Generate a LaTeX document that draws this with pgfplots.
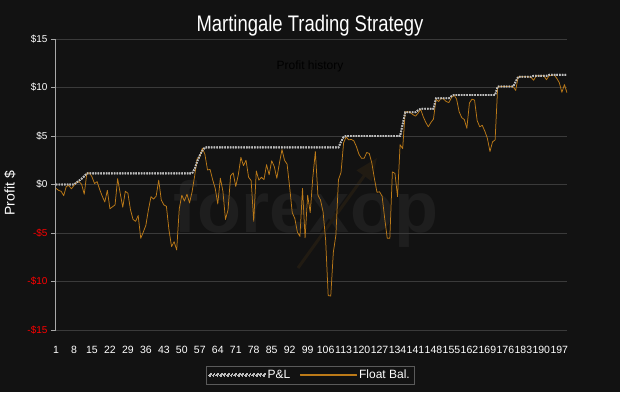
\documentclass[border=0pt]{standalone}
\usepackage{pgfplots}
\pgfplotsset{compat=1.18}
\usepackage{pgfplotstable}
\usepackage{fontspec}
\setmainfont{Liberation Sans}
\newfontfamily\titlefont[FakeStretch=0.82]{Liberation Sans}
\usetikzlibrary{arrows.meta}
\definecolor{bg}{HTML}{121212}
\definecolor{gridc}{HTML}{3A3A3A}
\definecolor{zeroc}{HTML}{B4B4B4}
\definecolor{axisc}{HTML}{A8A8A8}
\definecolor{pnlc}{HTML}{BDBDBD}
\definecolor{fltc}{HTML}{BC7A18}
\definecolor{wmc}{HTML}{1E1E1E}
\definecolor{wma}{HTML}{211B12}
\definecolor{legc}{HTML}{5A5A5A}

\pgfplotstableread{
x y
1 -0.4
2 -0.6
3 -0.7
4 -1.15
5 -0.2
6 -0.1
7 -0.45
8 -0.1
9 0.2
10 0.3
11 0.0
12 -1.0
13 1.15
14 1.2
15 0.8
16 0.1
17 0.3
18 -0.5
19 -1.2
20 -1.8
21 -0.6
22 -2.5
23 -2.3
24 -2.1
25 0.6
26 -0.9
27 -2.35
28 -0.7
29 -0.9
30 -2.6
31 -3.6
32 -3.8
33 -3.2
34 -5.55
35 -4.9
36 -4.2
37 -2.6
38 -1.25
39 -1.5
40 -1.2
41 0.45
42 -1.6
43 -2.1
44 -2.25
45 -4.7
46 -6.4
47 -5.9
48 -6.75
49 -2.5
50 -1.1
51 -1.7
52 -1.0
53 -1.9
54 -0.75
55 0.9
56 2.7
57 2.85
58 3.75
59 3.1
60 1.5
61 1.55
62 0.5
63 -0.4
64 -2.0
65 0.65
66 -0.7
67 -3.6
68 -2.6
69 0.9
70 1.2
71 -0.2
72 1.0
73 2.8
74 1.95
75 2.5
76 0.75
77 0.4
78 -3.8
79 1.4
80 0.45
81 0.75
82 0.5
83 2.05
84 1.0
85 2.45
86 1.85
87 0.65
88 2.2
89 3.6
90 2.5
91 2.1
92 -0.3
93 -2.9
94 -3.5
95 -4.9
96 -5.35
97 -0.4
98 -5.5
99 -1.1
100 -2.9
101 0.7
102 3.4
103 -1.1
104 -1.6
105 -2.8
106 -5.7
107 -11.45
108 -11.5
109 -7.0
110 -5.2
111 0.5
112 1.25
113 4.3
114 4.9
115 4.6
116 4.65
117 4.5
118 3.9
119 3.1
120 2.7
121 2.7
122 3.3
123 3.2
124 2.2
125 0.6
126 -0.8
127 -0.75
128 -1.2
129 -3.5
130 -5.55
131 -5.55
132 1.3
133 1.15
134 -1.25
135 4.1
136 3.7
137 7.5
138 7.5
139 7.4
140 7.2
141 7.05
142 7.35
143 7.75
144 7.0
145 6.4
146 5.95
147 6.4
148 6.75
149 8.8
150 8.55
151 8.9
152 8.8
153 8.55
154 8.45
155 8.95
156 9.23
157 8.8
158 7.5
159 6.9
160 6.7
161 5.8
162 8.4
163 8.8
164 8.7
165 6.6
166 5.95
167 6.1
168 5.5
169 4.75
170 3.4
171 4.4
172 4.6
173 10.05
174 10.1
175 10.1
176 10.1
177 10.1
178 10.1
179 10.1
180 9.7
181 11.1
182 11.1
183 11.1
184 11.1
185 11.1
186 11.05
187 10.75
188 11.2
189 11.2
190 11.2
191 11.2
192 10.8
193 11.2
194 11.25
195 11.3
196 10.95
197 10.5
198 9.5
199 10.3
200 9.45
}\floattable

\pgfplotstableread{
x y
1 0
8 0
9 0.2
10 0.4
11 0.6
12 0.85
13 1.15
54 1.15
55 1.6
56 2.4
57 3.0
58 3.5
59 3.83
111 3.83
112 4.4
113 4.9
114 5.0
135 5.0
136 6.2
137 7.45
141 7.45
142 7.65
143 7.8
148 7.8
149 8.9
154 8.9
155 9.1
156 9.23
172 9.23
173 10.1
179 10.1
180 10.6
181 11.1
186 11.1
187 11.2
192 11.2
193 11.3
200 11.3
}\pnltable

\begin{document}
\begin{tikzpicture}
\useasboundingbox (-56pt,-62pt) rectangle (564pt,330pt);
\fill[bg] (-56pt,-62pt) rectangle (564pt,330pt);
% watermark
\node[text=wmc, font=\fontsize{72}{72}\selectfont\bfseries, anchor=base] at (250pt,98pt) {forexop};
\draw[wma, line width=3pt, -{Triangle[length=22pt,width=18pt]}] (242pt,62pt) -- (321pt,172pt);
\begin{axis}[
  at={(0,0)}, anchor=south west,
  scale only axis, width=511pt, height=291pt,
  xmin=1, xmax=200, ymin=-15, ymax=15,
  axis x line*=bottom, axis y line*=left,
  x axis line style={draw=gridc, line width=0.9pt, -},
  y axis line style={draw=axisc, line width=1pt, -},
  xtick={1,8,...,197},
  xtick style={draw=none},
  xticklabel style={font=\fontsize{10.5}{11}\selectfont, text=white, anchor=base, yshift=-18pt},
  ytick={-15,-10,-5,5,10,15},
  yticklabels={{\textcolor{red}{-\$15}},{\textcolor{red}{-\$10}},{\textcolor{red}{-\$5}},{\$5},{\$10},{\$15}},
  extra y ticks={0},
  extra y tick labels={\$0},
  extra y tick style={grid style={draw=zeroc, line width=1.2pt}},
  ytick style={draw=axisc, line width=1pt},
  tick align=outside, major tick length=5pt,
  yticklabel style={font=\fontsize{10}{11}\selectfont, text=white, anchor=east},
  ymajorgrids,
  major grid style={draw=gridc, line width=0.9pt},
  /pgf/number format/assume math mode=true,
  ylabel={Profit \$},
  ylabel style={font=\fontsize{14}{15}\selectfont, text=white, at={(axis description cs:-0.09,0.47)}, anchor=center},
  legend style={at={(0.497,-0.155)}, anchor=center, legend columns=2, draw=legc, fill=bg,
    text=white, font=\fontsize{12}{13}\selectfont, inner sep=2pt,
    /tikz/every even column/.append style={column sep=8pt}},
]
\addplot[color=pnlc, line width=1.8pt, dash pattern=on 1.5pt off 1.2pt,
  legend image code/.code={\fill[fill=pnlc] (0pt,-0.9pt) rectangle (1.8pt,0.9pt);
    \foreach \k in {1,...,15}{\fill[fill=pnlc] (\k*3.6pt,-0.9pt) rectangle (\k*3.6pt+1.8pt,0.9pt);}}] table[x=x,y=y] {\pnltable};
\addlegendentry{P\&L}
\addplot[color=fltc, line width=0.75pt, line join=round,
  legend image code/.code={\fill[fill=fltc] (0pt,-0.6pt) rectangle (56pt,0.6pt);}] table[x=x,y=y] {\floattable};
\addlegendentry{Float Bal.}
\addplot[color=pnlc, line width=1.8pt, dash pattern=on 1.5pt off 1.2pt, forget plot] table[x=x,y=y] {\pnltable};
\end{axis}
\node[anchor=base, text=black, font=\fontsize{12}{13}\selectfont] at (254pt,261pt) {Profit history};
\node[anchor=base, text=white, font=\titlefont\fontsize{22.5}{24}\selectfont] at (254pt,299pt) {Martingale Trading Strategy};
\end{tikzpicture}
\end{document}
